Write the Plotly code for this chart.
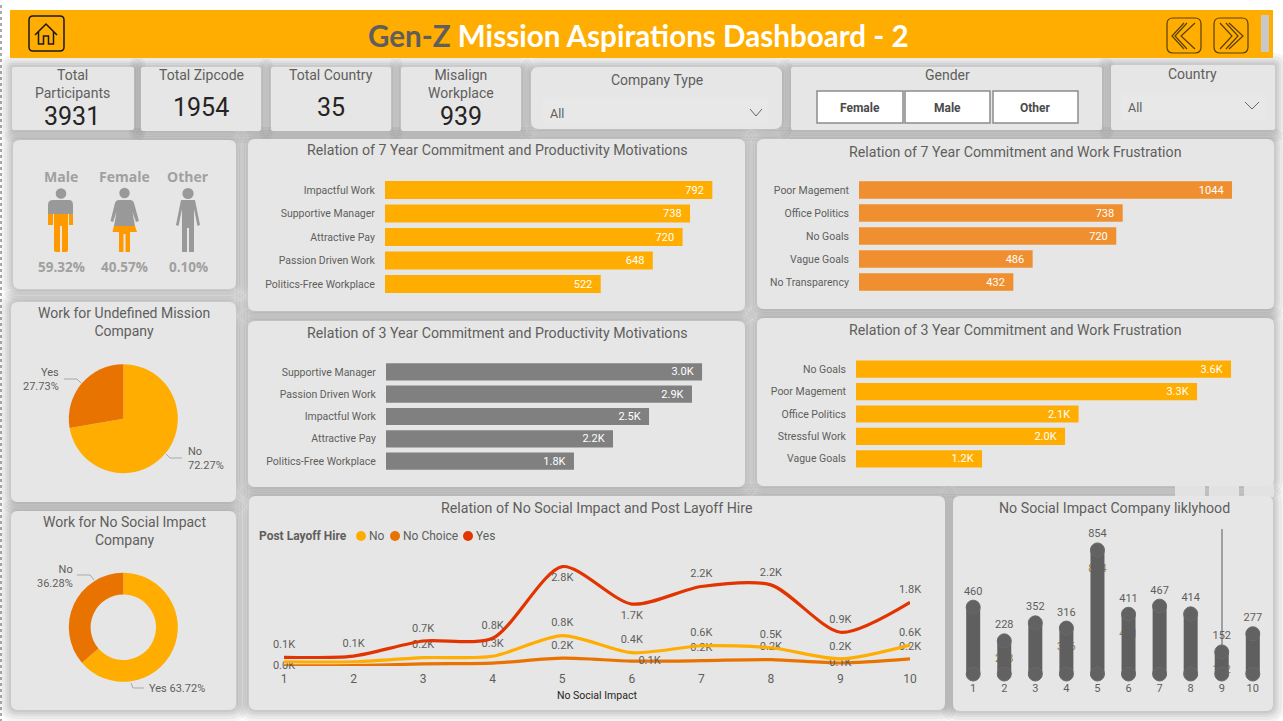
import re
import plotly.graph_objects as go

W, H = 1283, 721

# ---------- data ----------
prod7_cats = ["Impactful Work", "Supportive Manager", "Attractive Pay", "Passion Driven Work", "Politics-Free Workplace"]
prod7_vals = [792, 738, 720, 648, 522]
frus7_cats = ["Poor Magement", "Office Politics", "No Goals", "Vague Goals", "No Transparency"]
frus7_vals = [1044, 738, 720, 486, 432]
prod3_cats = ["Supportive Manager", "Passion Driven Work", "Impactful Work", "Attractive Pay", "Politics-Free Workplace"]
prod3_vals = [3010, 2914, 2505, 2162, 1790]
frus3_cats = ["No Goals", "Poor Magement", "Office Politics", "Stressful Work", "Vague Goals"]
frus3_vals = [3606, 3279, 2140, 2010, 1212]

mission_labels = ["No", "Yes"]
mission_vals = [72.27, 27.73]
social_labels = ["Yes", "No"]
social_vals = [63.72, 36.28]

social_x = [1, 2, 3, 4, 5, 6, 7, 8, 9, 10]
yes_vals = [245, 280, 705, 780, 2800, 1745, 2240, 2285, 950, 1795]
no_vals = [120, 120, 235, 275, 855, 375, 570, 515, 200, 590]
nochoice_vals = [5, 10, 60, 80, 220, 140, 150, 180, 85, 200]
yes_labels = ["0.1K", "0.1K", "0.7K", "0.8K", "2.8K", "1.7K", "2.2K", "2.2K", "0.9K", "1.8K"]
no_labels = ["", "", "0.2K", "0.3K", "0.8K", "0.4K", "0.6K", "0.5K", "0.2K", "0.6K"]
nochoice_labels = ["0.0K", "", "", "", "0.2K", "0.1K", "0.2K", "0.2K", "0.1K", "0.2K"]

like_x = [1, 2, 3, 4, 5, 6, 7, 8, 9, 10]
like_vals = [460, 228, 352, 316, 854, 411, 467, 414, 152, 277]
ghost_x = [2, 4, 5, 6, 9]
ghost_pos = [103, 186, 723, 275, 28]
ghost_text = ["228", "316", "854", "411", "152"]

kpis = [("Total<br>Participants", "3931"), ("Total Zipcode", "1954"), ("Total Country", "35"), ("Misalign<br>Workplace", "939")]
gender_share = [("Male", "59.32%"), ("Female", "40.57%"), ("Other", "0.10%")]

# ---------- style ----------
FONT = "Roboto"
TXT = "#605E5C"
PANEL = "#E6E6E6"
AMBER = "#FFAD00"
DARKOR = "#E97300"
RED = "#E23400"

def fx(p): return p / W
def fy(p): return 1 - p / H

def conv(path):
    toks = re.findall(r"[MLQZ]|-?\d+\.?\d*", path)
    out, is_x = [], True
    for t in toks:
        if t in "MLQZ":
            out.append(t)
            is_x = True
        else:
            out.append(f"{fx(float(t)) if is_x else fy(float(t)):.6f}")
            is_x = not is_x
    return " ".join(out)

def rr(x0, y0, x1, y1, r):
    return (f"M {x0+r} {y0} L {x1-r} {y0} Q {x1} {y0} {x1} {y0+r} L {x1} {y1-r} Q {x1} {y1} {x1-r} {y1} "
            f"L {x0+r} {y1} Q {x0} {y1} {x0} {y1-r} L {x0} {y0+r} Q {x0} {y0} {x0+r} {y0} Z")

shapes, annots = [], []

def shp(path, fill=None, line=None, lw=1, op=1, layer="below"):
    shapes.append(dict(type="path", xref="paper", yref="paper", path=conv(path), layer=layer, opacity=op,
                       fillcolor=fill if fill else "rgba(0,0,0,0)",
                       line=dict(color=line if line else "rgba(0,0,0,0)", width=lw if line else 0)))

def circle(cx, cy, r, fill):
    shapes.append(dict(type="circle", xref="paper", yref="paper", x0=fx(cx-r), x1=fx(cx+r), y0=fy(cy+r), y1=fy(cy-r),
                       fillcolor=fill, line=dict(width=0), layer="below"))

def txt(x, y, s, size=12, color=TXT, anchor="center", family=FONT):
    annots.append(dict(x=fx(x), y=fy(y), xref="paper", yref="paper", text=s, showarrow=False, xanchor=anchor,
                       yanchor="middle", align={"center": "center", "left": "left", "right": "right"}[anchor],
                       font=dict(size=size, color=color, family=family), borderpad=0))

panels = [
    (12, 67, 134, 130, 2), (141, 67, 261, 131, 2), (271, 67, 391, 131, 2), (401, 67, 521, 131, 2),
    (531, 67, 782, 129, 8), (791, 67, 1102, 130, 2), (1111, 65, 1275, 130, 2),
    (13, 140, 236, 289, 7), (11, 302, 236, 502, 7), (11, 511, 236, 710, 7),
    (248, 139, 745, 311, 7), (757, 139, 1274, 309, 7), (248, 321, 745, 487, 7), (757, 318, 1274, 486, 7),
    (249, 496, 945, 710, 7), (953, 496, 1273, 711, 7),
]
# soft shadows around every card
for k in (12, 9, 6, 4, 2):
    for x0, y0, x1, y1, r in panels:
        shp(rr(x0-k, y0-k, x1+k, y1+k, r+k), fill="#000000", op=0.042)
# leftover visual-header stubs above the last card
for x0, x1 in ((1175, 1205), (1209, 1239), (1244, 1274)):
    shp(rr(x0, 484, x1, 497, 0), fill="#E2E2E2")
shp("M 1216 486 L 1216 482 L 1229 482 L 1229 486", line="#8a8a8a", lw=1)
for x0, y0, x1, y1, r in panels:
    shp(rr(x0, y0, x1, y1, r), fill=PANEL)

# dotted page edge
shapes.append(dict(type="line", xref="paper", yref="paper", x0=fx(1), x1=fx(1), y0=fy(5), y1=fy(721),
                   line=dict(color="#555555", width=1, dash="dot"), layer="below"))

# banner
shp(rr(10, 10, 1273, 58, 0), fill=AMBER)
txt(638, 36, '<b><span style="color:#605E5C">Gen-Z</span> Mission Aspirations Dashboard - 2</b>', 29.6, "#FFFFFF", family="Lato")
shp(rr(29, 16, 64, 51, 4), line="#1a1a1a", lw=1.5)
shp("M 35 35 L 46 24 L 57 35 M 38.5 32 L 38.5 44 L 43.5 44 L 43.5 36 L 48.5 36 L 48.5 44 L 53.5 44 L 53.5 32", line="#1a1a1a", lw=1.5)
shp(rr(1167, 18, 1201, 53, 6), line="#5a4000", lw=1.2)
shp(rr(1214, 18, 1248, 53, 6), line="#5a4000", lw=1.2)
shp("M 1184 23 L 1172 36 L 1184 49 M 1195 23 L 1181 36 L 1195 49 M 1187 23 L 1175 36 L 1187 49", line="#5a4000", lw=1.2)
shp("M 1220 23 L 1232 36 L 1220 49 M 1229 23 L 1243 36 L 1229 49 M 1226 23 L 1238 36 L 1226 49", line="#5a4000", lw=1.2)
shp(rr(1261, 15, 1269, 52, 0), fill="#C8C8C8")

# KPI cards
kpi_cx = [72, 201, 331, 461]
for cx, (lab, val) in zip(kpi_cx, kpis):
    two = "<br>" in lab
    txt(cx, 84 if two else 75, lab, 14, TXT)
    txt(cx, 116 if two else 108, val, 25, "#252423")

# slicers
txt(657, 80, "Company Type", 14)
shp(rr(543, 97, 768, 124, 0), fill="#E8E8E8")
txt(549, 113, "All", 12.5, "#605E5C", "left")
shp("M 750 109 L 756 116 L 762 109", line="#666666", lw=1)
txt(947, 75, "Gender", 14)
for x0, x1, s in ((817, 903, "Female"), (905, 990, "Male"), (993, 1078, "Other")):
    shp(rr(x0, 91, x1, 123, 0), fill="#FFFFFF", line="#8c8c8c", lw=1.5)
    txt((x0+x1)/2, 108, f"<b>{s}</b>", 12, "#4a4a4a")
txt(1192, 74, "Country", 14)
shp(rr(1121, 93, 1265, 120, 0), fill="#E8E8E8")
txt(1127, 108, "All", 12.5, "#605E5C", "left")
shp("M 1245 102 L 1252 109 L 1259 102", line="#666666", lw=1)

# gender pictograms
G, O = "#999999", "#FF9900"
for (name, pct), cx in zip(gender_share, (61, 124.5, 188)):
    txt(cx, 176, f"<b>{name}</b>", 14, "#A0A0A0", family="Open Sans")
    txt(cx, 267, f"<b>{pct}</b>", 13.5, "#A0A0A0", family="Open Sans")
circle(61, 193.5, 5.3, G)
shp("M 53 200 L 69 200 Q 73 200 73 205 L 73 214 L 48 214 L 48 205 Q 48 200 53 200 Z", fill=G)
shp("M 48 214 L 53 214 L 53 225 L 48 225 Z M 69 214 L 73 214 L 73 225 L 69 225 Z", fill=O)
shp("M 54 214 L 68 214 L 68 250 Q 68 252 66 252 L 62 252 L 62 226 L 60 226 L 60 252 L 56 252 Q 54 252 54 250 Z", fill=O)
circle(124.5, 193, 5.2, G)
shp("M 119 200 L 130 200 Q 133 200 134 203 L 139 221 L 136 222 L 132.5 212 L 135 226 L 114 226 L 116.5 212 L 113 222 L 110.5 221 L 115 203 Q 116 200 119 200 Z", fill=G)
shp("M 114 226 L 135 226 L 137 232 L 112.5 232 Z", fill=O)
shp("M 119 232 L 130 232 L 130 252 L 125.5 252 L 125.5 234 L 123.5 234 L 123.5 252 L 119 252 Z", fill=O)
circle(188, 193.5, 5.6, G)
shp("M 181 200 L 195 200 L 200 225 L 197.5 226 L 194 209 L 194 252 L 189 252 L 189 228 L 187 228 L 187 252 L 182 252 L 182 209 L 178.5 226 L 176 225 Z", fill=G)

# panel titles
txt(497, 150, "Relation of 7 Year Commitment and Productivity Motivations", 14.2)
txt(1015, 152, "Relation of 7 Year Commitment and Work Frustration", 14.2)
txt(497, 333, "Relation of 3 Year Commitment and Productivity Motivations", 14.2)
txt(1015, 330, "Relation of 3 Year Commitment and Work Frustration", 14.2)
txt(597, 508, "Relation of No Social Impact and Post Layoff Hire", 14.2)
txt(1114, 508, "No Social Impact Company liklyhood", 14.2)
txt(124, 322, "Work for Undefined Mission<br>Company", 14)
txt(124, 531, "Work for No Social Impact<br>Company", 14)

# pie labels and leaders
LEAD = "#A8A8A8"
txt(60, 379, "Yes<br>27.73%", 11, TXT, "right")
shp("M 64 379 L 77 379 L 81 383", line=LEAD)
txt(187, 458, "No<br>72.27%", 11, TXT, "left")
shp("M 166 454 L 170 458 L 182 458", line=LEAD)
txt(74, 576, "No<br>36.28%", 11, TXT, "right")
shp("M 77 575 L 90 575 L 94 580", line=LEAD)
txt(148, 688, "Yes 63.72%", 11, TXT, "left")
shp("M 131 683 L 133 688 L 144 688", line=LEAD)

# line-chart legend and axis title
txt(258, 536, "<b>Post Layoff Hire</b>", 12, TXT, "left")
for cx, col, s in ((361, AMBER, "No"), (395, DARKOR, "No Choice"), (468, RED, "Yes")):
    circle(cx, 536, 5, col)
    txt(cx + 7, 536, s, 12, TXT, "left")
txt(597, 695, "No Social Impact", 10.5, "#252423")

# stray vertical rule on the likelihood chart
shp("M 1222 529 L 1222 647", line="#A0A0A0", lw=2)

# ---------- traces ----------
fig = go.Figure()
axes = {}
PAD = "\u00a0\u00a0"

def add_hbar(idx, cats, vals, labels, color, x_start, k, top, bottom):
    width = 395
    xa, ya = f"xaxis{idx}", f"yaxis{idx}"
    axes[xa] = dict(domain=[fx(x_start), min(fx(x_start + width), 1)], range=[0, width / k], visible=False, fixedrange=True)
    axes[ya] = dict(domain=[fy(bottom), fy(top)], autorange="reversed", showgrid=False, zeroline=False, showline=False,
                    ticks="outside", ticklen=7, tickcolor="rgba(0,0,0,0)", tickfont=dict(size=10.5, color=TXT, family=FONT),
                    anchor=f"x{idx}", fixedrange=True)
    axes[xa]["anchor"] = f"y{idx}"
    fig.add_trace(go.Bar(y=cats, x=vals, orientation="h", marker=dict(color=color, line=dict(width=0)),
                         text=[s + PAD for s in labels],
                         textposition="inside", insidetextanchor="end", textangle=0, constraintext="none",
                         textfont=dict(size=11, color="#FFFFFF", family=FONT), width=0.77,
                         xaxis=f"x{idx}", yaxis=f"y{idx}", showlegend=False, hoverinfo="skip"))

add_hbar(1, prod7_cats, prod7_vals, [str(v) for v in prod7_vals], AMBER, 385, 0.4133, 178.25, 295.75)
add_hbar(2, frus7_cats, frus7_vals, [str(v) for v in frus7_vals], "#EF8F30", 859, 0.3573, 178.5, 293.5)
add_hbar(3, prod3_cats, prod3_vals, [f"{v/1000:.1f}K" for v in prod3_vals], "#808080", 386, 0.105, 360.75, 472.25)
add_hbar(4, frus3_cats, frus3_vals, [f"{v/1000:.1f}K" for v in frus3_vals], AMBER, 856, 0.104, 358, 470)

fig.add_trace(go.Pie(labels=mission_labels, values=mission_vals, sort=False, direction="clockwise", rotation=0,
                     marker=dict(colors=[AMBER, DARKOR], line=dict(width=0)), textinfo="none", hoverinfo="skip",
                     domain=dict(x=[fx(68.8), fx(177.8)], y=[fy(473.2), fy(364.2)]), showlegend=False))
fig.add_trace(go.Pie(labels=social_labels, values=social_vals, sort=False, direction="clockwise", rotation=0, hole=0.6,
                     marker=dict(colors=[AMBER, DARKOR], line=dict(width=0)), textinfo="none", hoverinfo="skip",
                     domain=dict(x=[fx(68.8), fx(177.8)], y=[fy(681.8), fy(572.8)]), showlegend=False))

# line chart
LZERO, LK = 666, 0.0355
axes["xaxis5"] = dict(domain=[fx(284), fx(910)], range=[1, 10], anchor="y5", tickmode="array", tickvals=social_x,
                      showgrid=False, zeroline=False, showline=False, ticks="outside", ticklen=2, tickcolor="rgba(0,0,0,0)",
                      tickfont=dict(size=12, color=TXT, family=FONT), fixedrange=True)
axes["yaxis5"] = dict(domain=[fy(LZERO), fy(540)], range=[0, (LZERO - 540) / LK], anchor="x5", visible=False, fixedrange=True)
TOP, BOT, MID, RIGHT = "top center", "bottom center", "middle center", "middle right"
series = [
    ("No Choice", nochoice_vals, nochoice_labels, DARKOR, [MID, TOP, TOP, TOP, TOP, RIGHT, TOP, TOP, MID, TOP]),
    ("No", no_vals, no_labels, AMBER, [TOP] * 10),
    ("Yes", yes_vals, yes_labels, RED, [TOP, TOP, TOP, TOP, BOT, BOT, TOP, TOP, TOP, TOP]),
]
for name, vals, labs, col, pos in series:
    fig.add_trace(go.Scatter(x=social_x, y=vals, mode="lines+markers+text", name=name, text=labs, textposition=pos,
                             line=dict(color=col, width=3.2, shape="spline", smoothing=0.75),
                             marker=dict(size=9, opacity=0),
                             textfont=dict(size=11, color=TXT, family=FONT), cliponaxis=False,
                             xaxis="x5", yaxis="y5", showlegend=False, hoverinfo="skip"))

# likelihood chart: labels hidden behind the columns first, then the columns
BZERO, BK = 674, 0.1453
like_range = [0.5, 10.5]
dom_x = [fx(973.2 - 15.55), fx(1252.8 + 15.55)]
dom_y = [fy(BZERO), fy(520)]
y_range = [0, (BZERO - 520) / BK]
axes["xaxis6"] = dict(domain=dom_x, range=like_range, anchor="y6", visible=False, fixedrange=True)
axes["yaxis6"] = dict(domain=dom_y, range=y_range, anchor="x6", visible=False, fixedrange=True)
axes["xaxis7"] = dict(domain=dom_x, range=like_range, anchor="y7", tickmode="array", tickvals=like_x, showgrid=False,
                      zeroline=False, showline=False, ticks="outside", ticklen=4, tickcolor="rgba(0,0,0,0)",
                      tickfont=dict(size=11, color=TXT, family=FONT), fixedrange=True)
axes["yaxis7"] = dict(domain=dom_y, range=y_range, anchor="x7", visible=False, fixedrange=True)
fig.add_trace(go.Scatter(x=ghost_x, y=ghost_pos, mode="text", text=ghost_text, textposition=MID,
                         textfont=dict(size=11, color="#A07840", family=FONT), xaxis="x6", yaxis="y6",
                         showlegend=False, hoverinfo="skip", cliponaxis=False))
fig.add_trace(go.Bar(x=like_x, y=like_vals, width=0.45, marker=dict(color="#5F5F5F", line=dict(width=0)),
                     xaxis="x7", yaxis="y7", showlegend=False, hoverinfo="skip"))
fig.add_trace(go.Scatter(x=like_x, y=[0] * len(like_x), mode="markers",
                         marker=dict(size=14, color="#626262", line=dict(width=1, color="#6A6A6A")),
                         xaxis="x7", yaxis="y7", showlegend=False, hoverinfo="skip", cliponaxis=False))
fig.add_trace(go.Scatter(x=like_x, y=like_vals, mode="markers+text", text=[str(v) for v in like_vals], textposition="top center",
                         marker=dict(size=14, color="#626262", line=dict(width=1, color="#6A6A6A")),
                         textfont=dict(size=11, color=TXT, family=FONT), xaxis="x7", yaxis="y7",
                         showlegend=False, hoverinfo="skip", cliponaxis=False))

fig.update_layout(width=W, height=H, margin=dict(l=0, r=0, t=0, b=0, autoexpand=False), paper_bgcolor="#FFFFFF", plot_bgcolor="rgba(0,0,0,0)",
                  shapes=shapes, annotations=annots, showlegend=False, barmode="overlay", font=dict(family=FONT), **axes)
fig.write_html("out.html", config=dict(displayModeBar=False), post_script="document.body.style.margin='0';")
